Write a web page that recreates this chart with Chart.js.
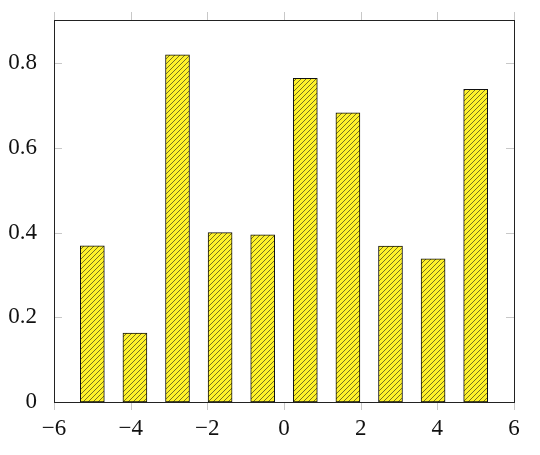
<!DOCTYPE html>
<html>
<head>
<meta charset="utf-8">
<script src="https://cdn.jsdelivr.net/npm/chart.js@4"></script>
<style>
  html, body { margin: 0; padding: 0; background: #fff; }
  #wrap { width: 540px; height: 455px; }
</style>
</head>
<body>
<div id="wrap"><canvas id="myChart" width="540" height="455"></canvas></div>
<script>
// bar positions and heights
const xPos = [-5, -3.889, -2.778, -1.667, -0.556, 0.556, 1.667, 2.778, 3.889, 5];
const yVals = [0.369, 0.163, 0.820, 0.400, 0.395, 0.764, 0.683, 0.368, 0.338, 0.738];
const xTicks = [-6, -4, -2, 0, 2, 4, 6];
const yTicks = [0, 0.2, 0.4, 0.6, 0.8];

function hatch() {
  var n = 5;
  var c = document.createElement('canvas');
  c.width = n; c.height = n;
  var g = c.getContext('2d');
  g.fillStyle = '#fff22a';
  g.fillRect(0, 0, n, n);
  g.strokeStyle = '#3a3a20';
  g.lineWidth = 0.7;
  g.beginPath();
  g.moveTo(-1, n + 1); g.lineTo(n + 1, -1);
  g.moveTo(-1, 1); g.lineTo(1, -1);
  g.moveTo(n - 1, n + 1); g.lineTo(n + 1, n - 1);
  g.stroke();
  return g.createPattern(c, 'repeat');
}

function fmt(v) {
  if (v === 0) return '0';
  return v < 0 ? '\u2212' + Math.abs(v) : String(v);
}

// pgfplots-like frame and ticks
const frame = {
  id: 'frame',
  afterDatasetsDraw(chart) {
    var ctx = chart.ctx, a = chart.chartArea;
    var xs = chart.scales.x, ys = chart.scales.y, L = 8;
    ctx.save();
    ctx.strokeStyle = '#c8c8c8';
    ctx.lineWidth = 1;
    ctx.beginPath();
    xTicks.forEach(function(t) {
      var px = Math.round(xs.getPixelForValue(t)) + 0.5;
      ctx.moveTo(px, a.bottom); ctx.lineTo(px, a.bottom + L);
      ctx.moveTo(px, a.top); ctx.lineTo(px, a.top - L);
    });
    yTicks.forEach(function(t) {
      var py = Math.round(ys.getPixelForValue(t)) + 0.5;
      ctx.moveTo(a.left, py); ctx.lineTo(a.left + L, py);
      ctx.moveTo(a.right, py); ctx.lineTo(a.right - L, py);
    });
    ctx.stroke();
    ctx.strokeStyle = '#222';
    ctx.strokeRect(Math.round(a.left) + 0.5, Math.round(a.top) + 0.5,
      Math.round(a.right - a.left), Math.round(a.bottom - a.top));
    ctx.restore();
  }
};

const ctx = document.getElementById('myChart').getContext('2d');
new Chart(ctx, {
  type: 'bar',
  data: {
    datasets: [{
      data: xPos.map(function(x, i) { return { x: x, y: yVals[i] }; }),
      backgroundColor: hatch(),
      borderColor: '#111',
      borderWidth: 1,
      borderSkipped: false,
      barThickness: 24
    }]
  },
  plugins: [frame],
  options: {
    responsive: false,
    animation: false,
    layout: { padding: { top: 20, right: 26, left: 0, bottom: 0 } },
    plugins: { legend: { display: false }, tooltip: { enabled: false } },
    scales: {
      x: {
        type: 'linear',
        min: -6, max: 6,
        offset: false,
        grid: { display: false },
        border: { display: false },
        afterBuildTicks: function(s) { s.ticks = xTicks.map(function(v) { return { value: v }; }); },
        afterFit: function(s) { s.height = 53; s.paddingLeft = 0; s.paddingRight = 0; },
        ticks: {
          padding: 5,
          maxRotation: 0,
          color: '#111',
          font: { family: "'Liberation Serif', serif", size: 23 },
          callback: function(v) { return fmt(v); }
        }
      },
      y: {
        min: 0, max: 0.902,
        grid: { display: false },
        border: { display: false },
        afterBuildTicks: function(s) { s.ticks = yTicks.map(function(v) { return { value: v }; }); },
        afterFit: function(s) { s.width = 54; s.paddingTop = 0; s.paddingBottom = 0; },
        ticks: {
          padding: 9,
          color: '#111',
          font: { family: "'Liberation Serif', serif", size: 23 },
          callback: function(v) { return v === 0 ? '0' : v.toFixed(1); }
        }
      }
    }
  }
});
</script>
</body>
</html>
